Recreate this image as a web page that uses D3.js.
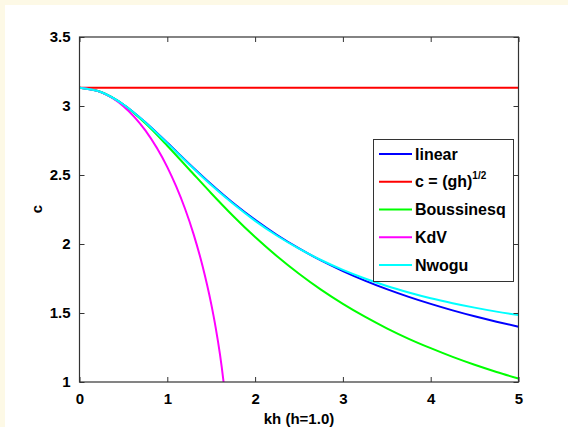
<!DOCTYPE html>
<html>
<head>
  <meta charset="utf-8" />
  <title>Phase speed vs kh</title>
  <script src="https://d3js.org/d3.v7.min.js"></script>
  <style>
    body { margin: 0; background: #fdf9e6; }
    svg text { font-family: "Liberation Sans", Arial, sans-serif; font-weight: bold; fill: #000; }
  </style>
</head>
<body>
  <svg id="chart" width="568" height="427"></svg>
  <script>
    // values
    var khGrid = [0, 0.25, 0.5, 0.75, 1, 1.25, 1.5, 1.75, 2, 2.25, 2.5, 2.75, 3,
                  3.25, 3.5, 3.75, 4, 4.25, 4.5, 4.75, 5];
    var linear = [3.132, 3.100, 3.011, 2.882, 2.733, 2.580, 2.433, 2.297, 2.175, 2.065, 1.968,
                  1.881, 1.804, 1.735, 1.673, 1.617, 1.566, 1.519, 1.476, 1.437, 1.401];
    var boussinesq = [3.132, 3.100, 3.009, 2.874, 2.712, 2.540, 2.368, 2.203, 2.050, 1.911, 1.784,
                      1.669, 1.566, 1.473, 1.389, 1.313, 1.245, 1.182, 1.125, 1.073, 1.025];
    var nwogu = [3.132, 3.100, 3.011, 2.881, 2.731, 2.576, 2.427, 2.291, 2.168, 2.060, 1.966,
                 1.884, 1.812, 1.750, 1.696, 1.649, 1.607, 1.571, 1.539, 1.510, 1.485];
    var kdvKh = [0, 0.25, 0.5, 0.75, 1, 1.1, 1.2, 1.3, 1.4, 1.5, 1.55, 1.6, 1.62, 1.641, 1.66];
    var kdv = [3.132, 3.099, 2.999, 2.823, 2.557, 2.419, 2.259, 2.070, 1.844, 1.566, 1.398,
               1.200, 1.108, 1.0, 0.894];
    var shallowKh = [0, 5];
    var shallow = [3.132, 3.132];

    var xTicks = [0, 1, 2, 3, 4, 5];
    var yTicks = [1, 1.5, 2, 2.5, 3, 3.5];
    var legendLabels = ["linear", "c = (gh)", "Boussinesq", "KdV", "Nwogu"];
    var colors = ["#0000ff", "#ff0000", "#00ff00", "#ff00ff", "#00ffff"];

    var svg = d3.select("#chart");
    // white figure area
    svg.append("rect").attr("x", 5).attr("y", 5).attr("width", 563).attr("height", 422).attr("fill", "#fff");

    var x = d3.scaleLinear().domain([0, 5]).range([79.5, 518.5]);
    var y = d3.scaleLinear().domain([1, 3.5]).range([382, 37]);

    svg.append("clipPath").attr("id", "clip")
      .append("rect").attr("x", 79.5).attr("y", 37).attr("width", 439).attr("height", 345);

    var line = d3.line()
      .x(function (d) { return x(d[0]); })
      .y(function (d) { return y(d[1]); })
      .curve(d3.curveMonotoneX);

    function pairs(xs, ys) { return xs.map(function (v, i) { return [v, ys[i]]; }); }

    var series = [
      pairs(khGrid, linear),
      pairs(shallowKh, shallow),
      pairs(khGrid, boussinesq),
      pairs(kdvKh, kdv),
      pairs(khGrid, nwogu)
    ];

    var g = svg.append("g").attr("clip-path", "url(#clip)");
    series.forEach(function (s, i) {
      g.append("path").datum(s)
        .attr("fill", "none")
        .attr("stroke", colors[i])
        .attr("stroke-width", 2)
        .attr("d", line);
    });

    // axes: ticks point inward, on all four sides
    var tl = 5;
    svg.append("g").attr("transform", "translate(0,382)")
      .call(d3.axisBottom(x).tickValues(xTicks).tickSizeInner(-tl).tickSizeOuter(0).tickPadding(11).tickFormat(d3.format("d")));
    svg.append("g").attr("transform", "translate(0,37)")
      .call(d3.axisTop(x).tickValues(xTicks).tickSizeInner(-tl).tickSizeOuter(0).tickFormat(""));
    svg.append("g").attr("transform", "translate(79.5,0)")
      .call(d3.axisLeft(y).tickValues(yTicks).tickSizeInner(-tl).tickSizeOuter(0).tickPadding(9).tickFormat(function (d) { return String(d); }));
    svg.append("g").attr("transform", "translate(518.5,0)")
      .call(d3.axisRight(y).tickValues(yTicks).tickSizeInner(-tl).tickSizeOuter(0).tickFormat(""));

    svg.selectAll(".domain").remove();
    svg.selectAll(".tick line").attr("stroke", "#333");
    svg.selectAll(".tick text").style("font-size", "15px").style("font-family", "'Liberation Sans', Arial, sans-serif").style("font-weight", "bold");

    svg.append("rect").attr("x", 79.5).attr("y", 37).attr("width", 439).attr("height", 345)
      .attr("fill", "none").attr("stroke", "#333").attr("stroke-width", 1.2);

    // axis labels
    svg.append("text").attr("x", 299).attr("y", 424).attr("text-anchor", "middle")
      .style("font-size", "15px").text("kh (h=1.0)");
    svg.append("text").attr("transform", "translate(42,209) rotate(-90)").attr("text-anchor", "middle")
      .style("font-size", "15px").text("c");

    // legend
    var leg = svg.append("g");
    leg.append("rect").attr("x", 373.5).attr("y", 139.5).attr("width", 140).attr("height", 142)
      .attr("fill", "#fff").attr("stroke", "#333").attr("stroke-width", 1);
    legendLabels.forEach(function (lab, i) {
      var ly = 154 + i * 27.75;
      leg.append("line").attr("x1", 379).attr("x2", 412).attr("y1", ly).attr("y2", ly)
        .attr("stroke", colors[i]).attr("stroke-width", 2);
      var t = leg.append("text").attr("x", 415).attr("y", ly + 5.5).style("font-size", "16px").text(lab);
      if (i === 1) {
        t.append("tspan").attr("dy", -8).style("font-size", "10px").text("1/2");
      }
    });
  </script>
</body>
</html>
